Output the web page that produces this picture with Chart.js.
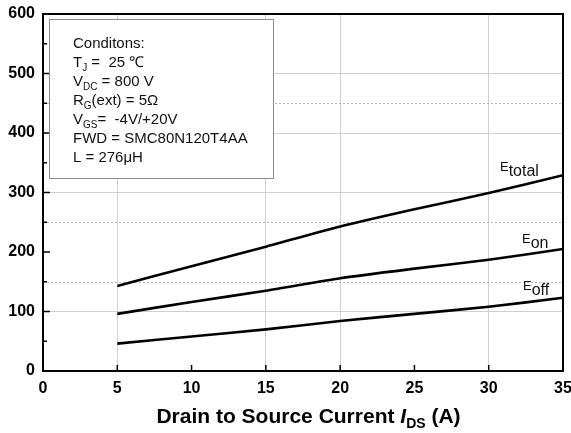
<!DOCTYPE html>
<html>
<head>
<meta charset="utf-8">
<script src="https://cdn.jsdelivr.net/npm/chart.js@4"></script>
<style>
  html, body { margin: 0; padding: 0; background: #fff; }
  #wrap { width: 571px; height: 433px; }
</style>
</head>
<body>
<div id="wrap"><canvas id="lossChart"></canvas></div>
<script>
// drain current (A) and switching energies (uJ)
const currents = [5, 10, 15, 20, 25, 30, 35];
const eTotal = [143, 176, 209, 243, 272, 299, 329];
const eOn = [96, 116, 135, 156, 172, 187, 205];
const eOff = [46, 58, 70, 84, 96, 108, 123];

const yTicks = [0, 100, 200, 300, 400, 500, 600];
const xTicks = [0, 5, 10, 15, 20, 25, 30, 35];
const ySolidGrid = [100, 300, 400, 500];
const yDottedGrid = [150, 250, 450];
const xSolidGrid = [5, 15, 20, 30];

const conditions = [
    [["Conditons:", 0]],
    [["T", 0], ["J", 1], [" =  25 ℃", 0]],
    [["V", 0], ["DC", 1], [" = 800 V", 0]],
    [["R", 0], ["G", 1], ["(ext) = 5Ω", 0]],
    [["V", 0], ["GS", 1], ["=  -4V/+20V", 0]],
    [["FWD = SMC80N120T4AA", 0]],
    [["L = 276μH", 0]]
];

const FONT = "'Liberation Sans', Arial, sans-serif";

function drawParts(ctx, x, y, parts) {
    parts.forEach(p => {
        ctx.font = p.font;
        ctx.fillText(p.text, x, y + (p.dy || 0));
        x += ctx.measureText(p.text).width;
    });
    return x;
}

const decor = {
    id: "decor",
    beforeDatasetsDraw(c) {
        const ctx = c.ctx, a = c.chartArea, ys = c.scales.y;
        ctx.save();
        ctx.strokeStyle = "#b5b5b5";
        ctx.lineWidth = 1;
        ctx.setLineDash([2, 2]);
        yDottedGrid.forEach(v => {
            const py = Math.round(ys.getPixelForValue(v)) + 0.5;
            ctx.beginPath();
            ctx.moveTo(a.left, py);
            ctx.lineTo(a.right, py);
            ctx.stroke();
        });
        ctx.restore();
    },
    afterDraw(c) {
        const ctx = c.ctx, a = c.chartArea, xs = c.scales.x, ys = c.scales.y;
        ctx.save();

        // frame
        ctx.strokeStyle = "#000";
        ctx.lineWidth = 2;
        ctx.strokeRect(a.left, a.top, a.right - a.left, a.bottom - a.top);

        // inward tick marks
        ctx.lineWidth = 1.5;
        for (let v = 50; v < 600; v += 50) {
            const py = ys.getPixelForValue(v);
            const len = v % 100 === 0 ? 7 : 4;
            ctx.beginPath();
            ctx.moveTo(a.left, py);
            ctx.lineTo(a.left + len, py);
            ctx.stroke();
        }
        xTicks.slice(1, -1).forEach(v => {
            const px = xs.getPixelForValue(v);
            ctx.beginPath();
            ctx.moveTo(px, a.bottom);
            ctx.lineTo(px, a.bottom - 6);
            ctx.stroke();
        });

        // conditions box
        ctx.lineWidth = 1;
        ctx.strokeStyle = "#8a8a8a";
        ctx.fillStyle = "#fff";
        ctx.fillRect(49.5, 19.5, 224, 159);
        ctx.strokeRect(49.5, 19.5, 224, 159);
        ctx.fillStyle = "#111";
        ctx.textBaseline = "alphabetic";
        ctx.textAlign = "left";
        conditions.forEach((line, i) => {
            const y = 48 + i * 19;
            drawParts(ctx, 73, y, line.map(([t, sub]) => ({
                text: t,
                font: sub ? "10px " + FONT : "15px " + FONT,
                dy: sub ? 4 : 0
            })));
        });

        // curve labels
        const lab = (name, sub, data, dx, dy) => {
            const px = xs.getPixelForValue(35) + dx;
            const py = ys.getPixelForValue(data[data.length - 1]) + dy;
            drawParts(ctx, px, py, [
                { text: name, font: "13px " + FONT, dy: 0 },
                { text: sub, font: "16px " + FONT, dy: 5 }
            ]);
        };
        lab("E", "total", eTotal, -63, -4);
        lab("E", "on", eOn, -41, -6);
        lab("E", "off", eOff, -40, -8);

        // x axis title
        ctx.fillStyle = "#000";
        const parts = [
            { text: "Drain to Source Current ", font: "bold 21px " + FONT },
            { text: "I", font: "italic bold 21px " + FONT },
            { text: "DS", font: "bold 14px " + FONT, dy: 5 },
            { text: " (A)", font: "bold 21px " + FONT }
        ];
        let w = 0;
        parts.forEach(p => { ctx.font = p.font; w += ctx.measureText(p.text).width; });
        drawParts(ctx, 308.5 - w / 2, 423, parts);

        ctx.restore();
    }
};

const ds = (label, data) => ({
    label: label,
    data: currents.map((x, i) => ({ x: x, y: data[i] })),
    borderColor: "#000",
    borderWidth: 2.6,
    pointRadius: 0,
    tension: 0.2,
    fill: false
});

new Chart(document.getElementById("lossChart"), {
    type: "line",
    data: {
        datasets: [ds("Etotal", eTotal), ds("Eon", eOn), ds("Eoff", eOff)]
    },
    options: {
        responsive: true,
        maintainAspectRatio: false,
        animation: false,
        devicePixelRatio: 1,
        layout: { padding: { top: 14, right: 8, left: 0, bottom: 0 } },
        plugins: { legend: { display: false }, tooltip: { enabled: false } },
        scales: {
            x: {
                type: "linear",
                min: 0,
                max: 35,
                afterFit: s => { s.height = 62; s.paddingRight = 0; s.paddingLeft = 0; },
                afterBuildTicks: s => { s.ticks = xTicks.map(v => ({ value: v })); },
                ticks: {
                    color: "#000",
                    padding: 8,
                    maxRotation: 0,
                    font: { family: FONT, size: 16, weight: "bold" }
                },
                grid: {
                    drawTicks: false,
                    lineWidth: 1,
                    color: ctx => xSolidGrid.includes(ctx.tick && ctx.tick.value) ? "#cfcfcf" : "rgba(0,0,0,0)"
                },
                border: { display: false }
            },
            y: {
                min: 0,
                max: 600,
                afterFit: s => { s.width = 43; s.paddingTop = 0; s.paddingBottom = 0; },
                afterBuildTicks: s => { s.ticks = yTicks.map(v => ({ value: v })); },
                ticks: {
                    color: "#000",
                    padding: 8,
                    font: { family: FONT, size: 16, weight: "bold" }
                },
                grid: {
                    drawTicks: false,
                    lineWidth: 1,
                    color: ctx => ySolidGrid.includes(ctx.tick && ctx.tick.value) ? "#cfcfcf" : "rgba(0,0,0,0)"
                },
                border: { display: false }
            }
        }
    },
    plugins: [decor]
});
</script>
</body>
</html>
